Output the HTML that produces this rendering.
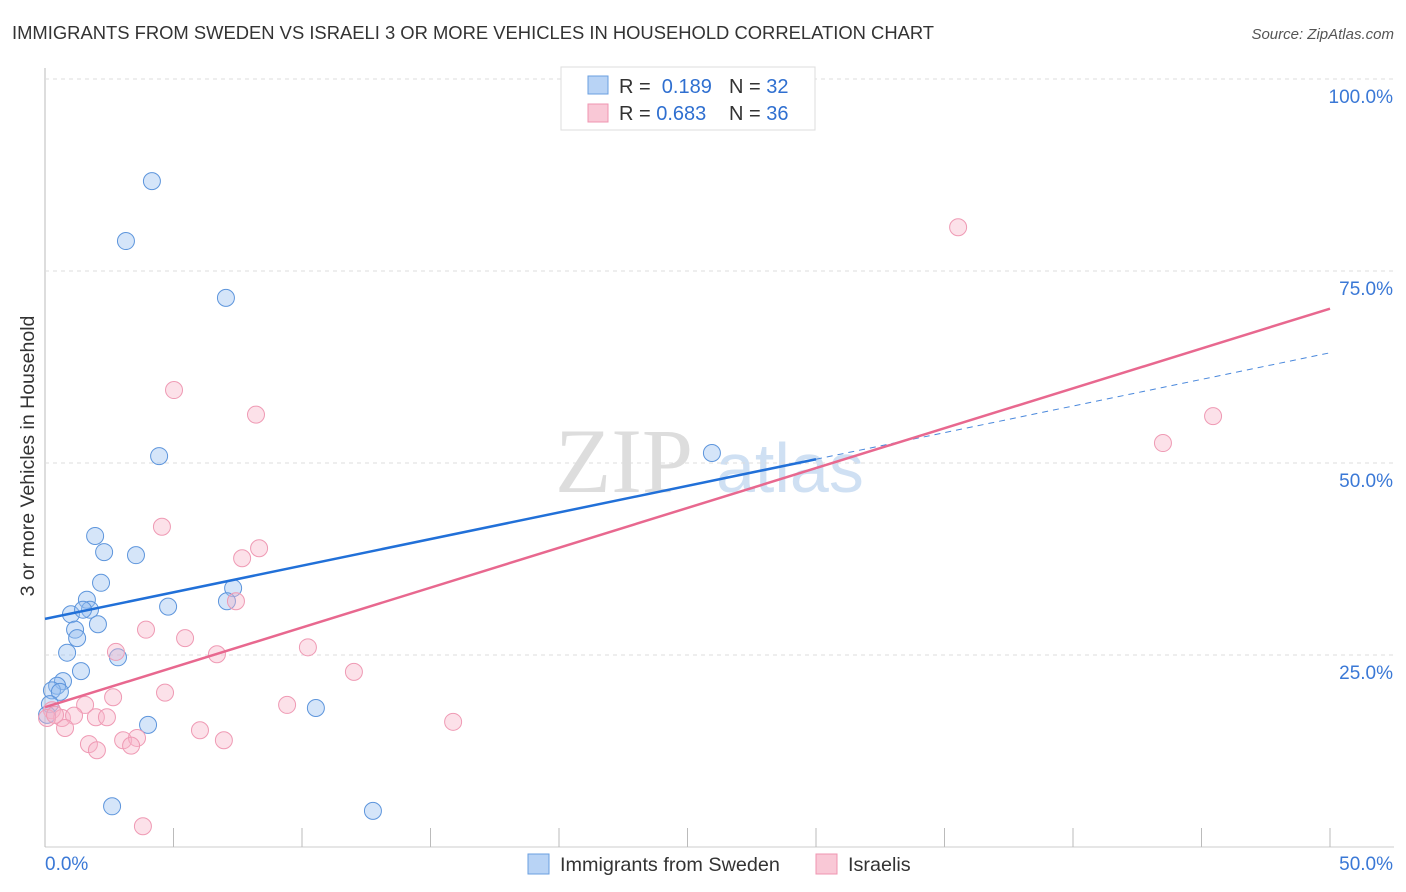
<!DOCTYPE html>
<html><head><meta charset="utf-8"><style>
body{margin:0;background:#fff;font-family:"Liberation Sans",sans-serif;}
#wrap{position:relative;width:1406px;height:892px;overflow:hidden;}
</style></head><body>
<div id="wrap">
<svg id="svg" width="1406" height="892" xmlns="http://www.w3.org/2000/svg">
<text x="12" y="39" font-size="18.4" fill="#333">IMMIGRANTS FROM SWEDEN VS ISRAELI 3 OR MORE VEHICLES IN HOUSEHOLD CORRELATION CHART</text>
<text x="1394" y="39" font-size="15" fill="#555" font-style="italic" text-anchor="end">Source: ZipAtlas.com</text>
<text x="0" y="0" transform="translate(34,456) rotate(-90)" font-size="19.5" fill="#333" text-anchor="middle">3 or more Vehicles in Household</text>
<g><text x="555" y="492" font-family="Liberation Serif,serif" font-size="92" fill="#ddd">ZIP</text><text x="716" y="492" font-size="70" fill="#cfe0f3">atlas</text></g>
<g id="grid"></g><g id="marks"></g><g id="lines"></g>
<g>
<rect x="561" y="67" width="254" height="63" fill="#fff" stroke="#ddd"/>
<rect x="588" y="76" width="20" height="18" fill="#b8d3f5" stroke="#6a9fe0"/>
<rect x="588" y="104" width="20" height="18" fill="#f9c8d6" stroke="#ef95b0"/>
<text x="619" y="93" font-size="20" fill="#333">R = <tspan fill="#2f6fd0">&#160;0.189</tspan><tspan x="729">N = </tspan><tspan fill="#2f6fd0">32</tspan></text>
<text x="619" y="120" font-size="20" fill="#333">R = <tspan fill="#2f6fd0">0.683</tspan><tspan x="729">N = </tspan><tspan fill="#2f6fd0">36</tspan></text>
</g>
<g>
<rect x="528" y="854" width="21" height="20" fill="#b8d3f5" stroke="#6a9fe0"/>
<text x="560" y="871" font-size="19.8" fill="#333">Immigrants from Sweden</text>
<rect x="816" y="854" width="21" height="20" fill="#f9c8d6" stroke="#ef95b0"/>
<text x="848" y="871" font-size="19.8" fill="#333">Israelis</text>
</g>
</svg>
</div>
<script>
const xTicks=[0,50];
const yTicks=[25,50,75,100];
const blueX=[4.16,3.15,7.04,4.44,25.95,1.95,2.30,3.54,2.18,7.32,1.63,4.79,7.08,1.01,1.75,1.48,1.17,2.06,1.25,0.86,2.84,1.40,0.70,0.47,0.27,0.58,0.19,4.01,10.54,2.61,12.76,0.08];
const blueY=[86.7,78.9,71.5,50.9,51.3,40.5,38.4,38.0,34.4,33.7,32.2,31.3,32.0,30.3,30.9,30.9,28.3,29.0,27.2,25.3,24.7,22.9,21.6,21.0,20.4,20.2,18.6,15.9,18.1,5.3,4.7,17.2];
const pinkX=[35.53,5.02,8.21,45.45,43.5,4.55,8.33,7.67,7.43,3.93,2.76,5.45,6.69,10.23,12.02,4.67,2.65,9.42,1.56,0.27,0.66,1.13,1.98,2.41,0.08,0.78,6.03,6.96,15.88,1.71,2.02,3.04,3.58,3.35,3.81,0.39];
const pinkY=[80.7,59.5,56.3,56.1,52.6,41.7,38.9,37.6,32.0,28.3,25.4,27.2,25.1,26.0,22.8,20.1,19.5,18.5,18.5,17.8,16.8,17.1,16.9,16.9,16.8,15.5,15.2,13.9,16.3,13.4,12.6,13.9,14.2,13.2,2.7,17.2];
const blueLine=[29.7,0.693];
const pinkLine=[18.2,1.038];
const blueSolidEnd=30;
const NS='http://www.w3.org/2000/svg';
const sx=v=>45+v*25.7, sy=v=>847-v*7.68;
function mk(tag,attrs,parent){const e=document.createElementNS(NS,tag);for(const k in attrs)e.setAttribute(k,attrs[k]);parent.appendChild(e);return e;}
const grid=document.getElementById('grid'),marks=document.getElementById('marks'),lines=document.getElementById('lines');
let a=mk('line',{x1:45,y1:68,x2:45,y2:847,stroke:'#bbb'},grid);


a=mk('line',{x1:45,y1:847,x2:1394,y2:847,stroke:'#ccc'},grid);


yTicks.forEach(t=>{
 const g=mk('line',{x1:45,y1:sy(t),x2:1394,y2:sy(t),stroke:'#ddd','stroke-dasharray':'4,4'},grid);
 
 
 const l=mk('text',{x:1393,y:sy(t)+24,'font-size':19,fill:'#3a78d6','text-anchor':'end'},grid);
 l.textContent=t.toFixed(1)+'%';
 
 
});
for(let i=0;i<=10;i++){
 const v=i*5;
 const tk=mk('line',{x1:sx(v),y1:828,x2:sx(v),y2:847,stroke:'#bbb'},grid);
 
 
}
xTicks.forEach((t,i)=>{
 const l=mk('text',{x:i==0?45:1393,y:870,'font-size':19,fill:'#3a78d6','text-anchor':i==0?'start':'end'},grid);
 l.textContent=t.toFixed(1)+'%';
 
 
});
blueX.forEach((x,i)=>{
 const c=mk('circle',{cx:sx(x),cy:sy(blueY[i]),r:8.5,fill:'rgba(150,190,240,0.4)',stroke:'#5d95dc','stroke-width':1},marks);
 
 
});
pinkX.forEach((x,i)=>{
 const c=mk('circle',{cx:sx(x),cy:sy(pinkY[i]),r:8.5,fill:'rgba(248,180,200,0.4)',stroke:'#ef9ab4','stroke-width':1},marks);
 
 
});
const bl=v=>blueLine[0]+blueLine[1]*v, pl=v=>pinkLine[0]+pinkLine[1]*v;
let ln=mk('line',{x1:sx(0),y1:sy(bl(0)),x2:sx(blueSolidEnd),y2:sy(bl(blueSolidEnd)),stroke:'#2170d8','stroke-width':2.5},lines);


ln=mk('line',{x1:sx(blueSolidEnd),y1:sy(bl(blueSolidEnd)),x2:sx(50),y2:sy(bl(50)),stroke:'#4a88dc','stroke-width':1,'stroke-dasharray':'6,5'},lines);


ln=mk('line',{x1:sx(0),y1:sy(pl(0)),x2:sx(50),y2:sy(pl(50)),stroke:'#e8688f','stroke-width':2.5},lines);


</script>
</body></html>
